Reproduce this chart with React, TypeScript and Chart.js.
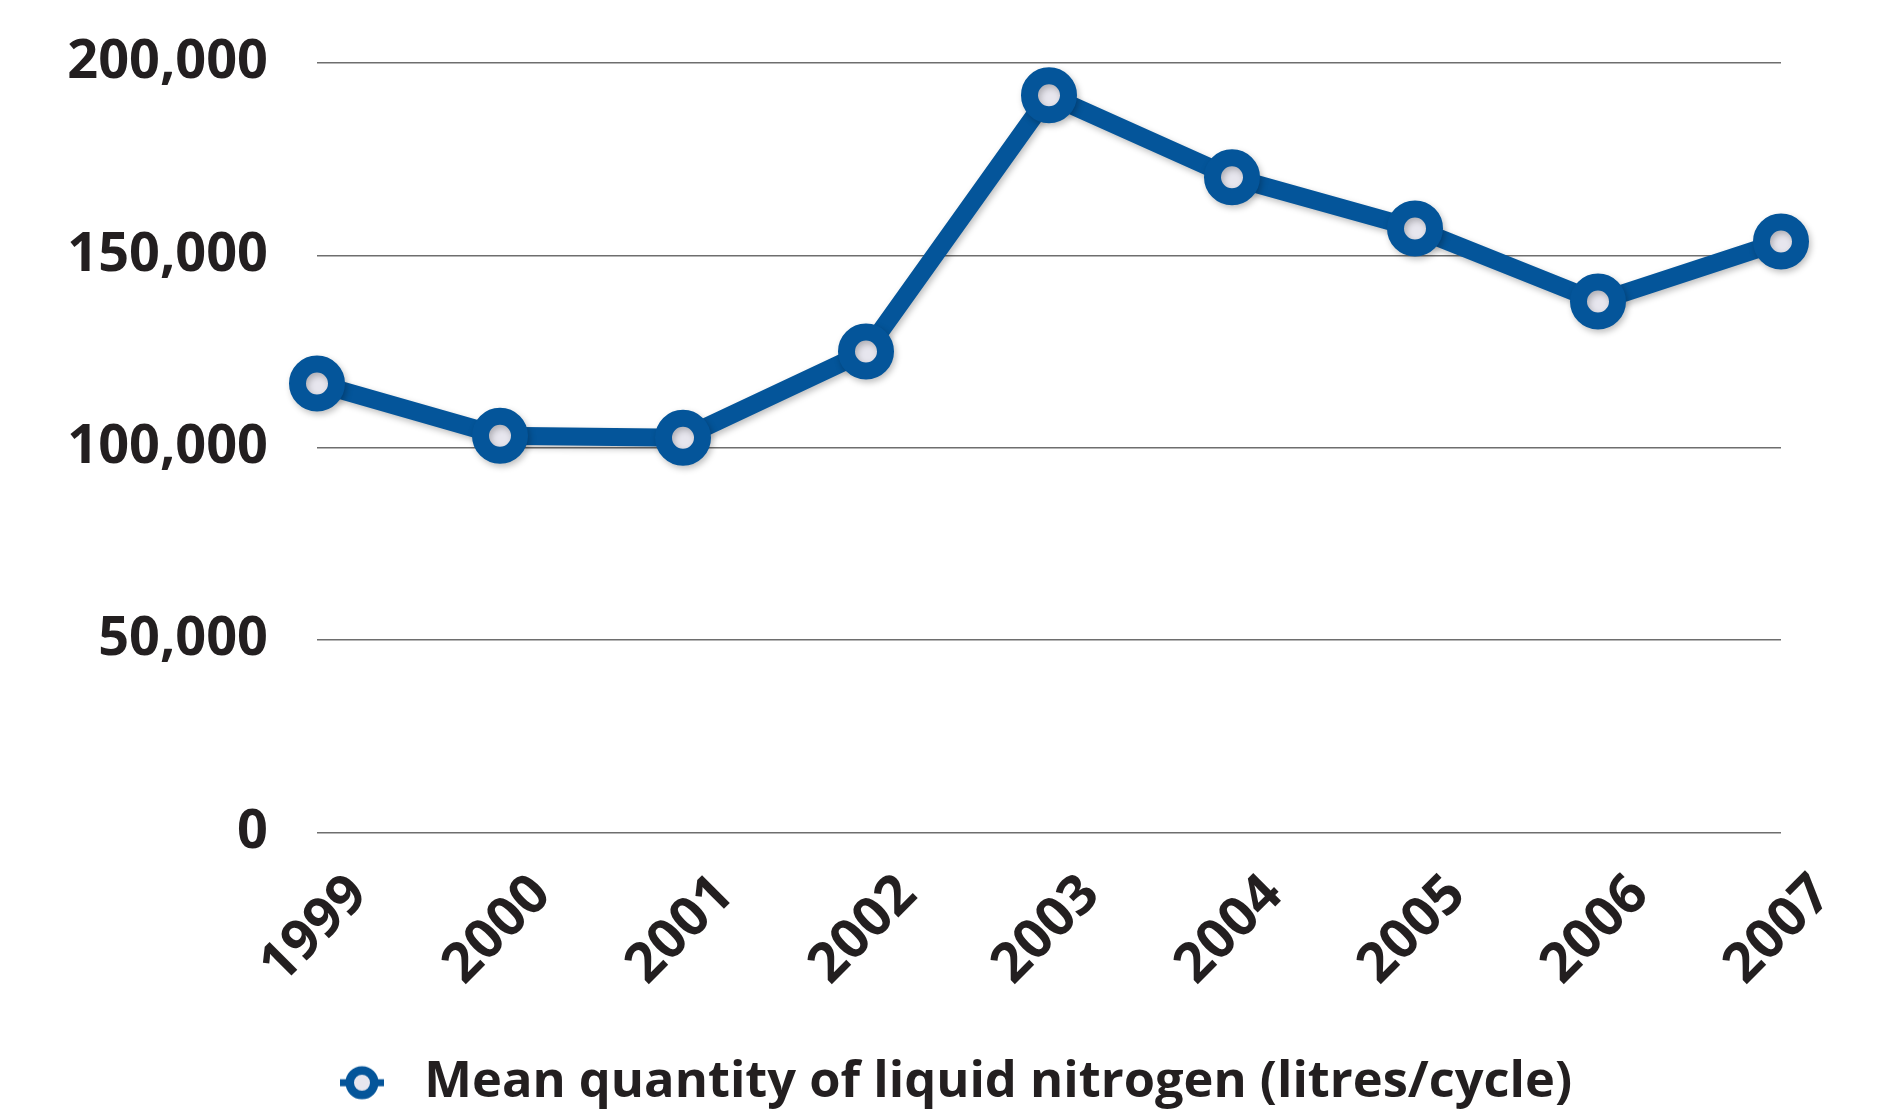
import React, { useEffect, useRef } from 'react';
import { Chart, registerables } from 'chart.js';

Chart.register(...registerables);

const years = ['1999', '2000', '2001', '2002', '2003', '2004', '2005', '2006', '2007'];
const nitrogen = [116700, 103100, 102600, 125000, 191600, 170300, 157000, 138000, 153600];
const yTicks = [0, 50000, 100000, 150000, 200000];
const seriesLabel = 'Mean quantity of liquid nitrogen (litres/cycle)';

const BLUE = '#04559a';
const LIGHT = '#e7e6ee';
const INK = '#231f20';
const FONT = "'Open Sans', sans-serif";

function makeLegendMarker(): HTMLCanvasElement {
  const c = document.createElement('canvas');
  c.width = 44;
  c.height = 36;
  const g = c.getContext('2d')!;
  g.fillStyle = BLUE;
  g.fillRect(0, 14.5, 44, 7);
  g.beginPath();
  g.arc(22, 18, 12.25, 0, Math.PI * 2);
  g.fillStyle = LIGHT;
  g.fill();
  g.lineWidth = 8.5;
  g.strokeStyle = BLUE;
  g.stroke();
  return c;
}

const shadowPlugin = {
  id: 'lineShadow',
  beforeDatasetsDraw(chart: any) {
    const ctx = chart.ctx;
    ctx.save();
    ctx.shadowColor = 'rgba(0,0,0,0.25)';
    ctx.shadowBlur = 6;
    ctx.shadowOffsetX = 2;
    ctx.shadowOffsetY = 3;
  },
  afterDatasetsDraw(chart: any) {
    chart.ctx.restore();
  },
};

// place the legend item so it starts at a fixed x
const legendPlace = {
  id: 'legendPlace',
  afterLayout(chart: any) {
    const lg = chart.legend;
    if (lg) {
      const w = lg.right - lg.left;
      lg.left = 325;
      lg.right = 325 + w;
    }
  },
};

export default function App() {
  const ref = useRef<HTMLCanvasElement | null>(null);

  useEffect(() => {
    if (!ref.current) return;
    const marker = makeLegendMarker();
    const chart = new Chart(ref.current, {
      type: 'line',
      data: {
        labels: years,
        datasets: [
          {
            label: seriesLabel,
            data: nitrogen,
            borderColor: BLUE,
            borderWidth: 18,
            borderCapStyle: 'round',
            borderJoinStyle: 'round',
            tension: 0,
            fill: false,
            pointStyle: 'circle',
            pointRadius: 19.5,
            pointHoverRadius: 19.5,
            pointBorderWidth: 17,
            pointBackgroundColor: LIGHT,
            pointBorderColor: BLUE,
            clip: false,
          } as any,
        ],
      },
      options: {
        animation: false,
        responsive: true,
        maintainAspectRatio: false,
        layout: { padding: { left: 0, right: 108, top: 63, bottom: 0 } },
        plugins: {
          tooltip: { enabled: false },
          legend: {
            display: true,
            position: 'bottom',
            align: 'start',
            labels: {
              usePointStyle: true,
              pointStyleWidth: 74,
              padding: 0,
              color: INK,
              font: { family: FONT, size: 50.6, weight: 'bold' },
              generateLabels: () => [
                {
                  text: seriesLabel,
                  pointStyle: marker as any,
                  fillStyle: LIGHT,
                  strokeStyle: BLUE,
                  lineWidth: 0,
                  hidden: false,
                  datasetIndex: 0,
                  fontColor: INK,
                } as any,
              ],
            },
          },
        },
        scales: {
          x: {
            offset: false,
            grid: { display: false, drawTicks: false },
            border: { display: false },
            ticks: {
              autoSkip: false,
              minRotation: 45,
              maxRotation: 45,
              labelOffset: 42,
              padding: 30,
              color: INK,
              font: { family: FONT, size: 55, weight: 'bold' },
            },
            afterFit: (s: any) => {
              s.height = 225;
              s.paddingLeft = 0;
              s.paddingRight = 0;
            },
          },
          y: {
            min: 0,
            max: 200000,
            grid: { color: '#6e6e6e', lineWidth: 1.5, drawTicks: false },
            border: { display: false },
            afterBuildTicks: (s: any) => {
              s.ticks = yTicks.map((v) => ({ value: v }));
            },
            ticks: {
              padding: 49,
              color: INK,
              font: { family: FONT, size: 54, weight: 'bold' },
              callback: (v: any) => Number(v).toLocaleString('en-US'),
            },
            afterFit: (s: any) => {
              s.width = 317;
              s.paddingTop = 0;
              s.paddingBottom = 0;
            },
          },
        },
      },
      plugins: [shadowPlugin, legendPlace],
    });
    return () => chart.destroy();
  }, []);

  return (
    <div style={{ position: 'fixed', left: 0, top: 0, width: 1889, height: 1118, background: '#fff' }}>
      <canvas ref={ref} />
    </div>
  );
}
